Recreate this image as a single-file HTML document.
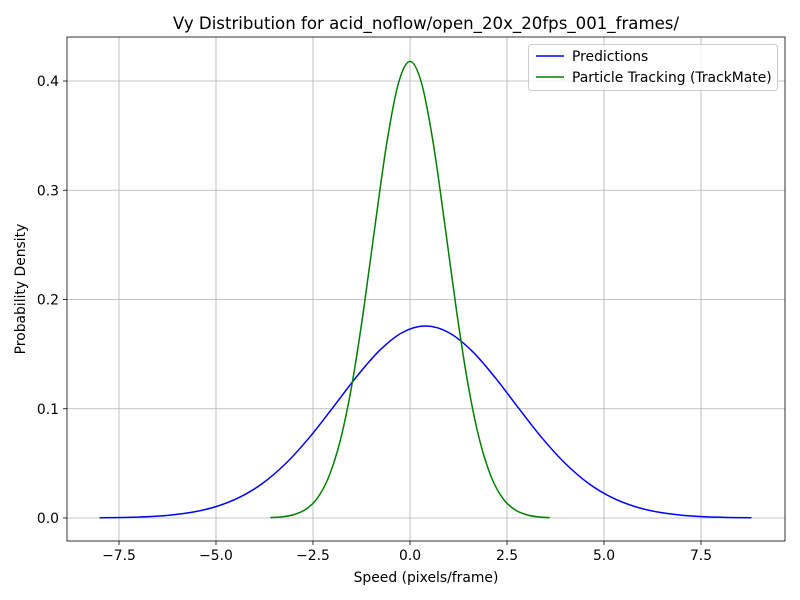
<!DOCTYPE html>
<html><head><meta charset="utf-8"><style>
body{margin:0;background:#fff;}
svg{display:block;font-family:"DejaVu Sans","Liberation Sans",sans-serif;}
</style></head><body>
<svg id="chart" width="800" height="600" viewBox="0 0 800 600">
<rect width="800" height="600" fill="#fff"/>
<g id="grid"></g><g id="series"></g><g id="axes"></g>
<text x="426" y="29" text-anchor="middle" font-size="16.6">Vy Distribution for acid_noflow/open_20x_20fps_001_frames/</text>
<text x="426" y="582" text-anchor="middle" font-size="13.9">Speed (pixels/frame)</text>
<text transform="translate(25,289) rotate(-90)" text-anchor="middle" font-size="13.9">Probability Density</text>
<g>
<rect x="528.5" y="44.5" width="249" height="46" rx="3" fill="#fff" fill-opacity="0.8" stroke="#ccc"/>
<line x1="536" y1="56" x2="564" y2="56" stroke="#0000ff" stroke-width="1.5"/>
<text x="572" y="61" font-size="13.9">Predictions</text>
<line x1="536" y1="77" x2="564" y2="77" stroke="#008000" stroke-width="1.5"/>
<text x="572" y="82" font-size="13.9">Particle Tracking (TrackMate)</text>
</g>
</svg>
<script>
const blueX = [-8,-7.4,-6.8,-6.2,-5.6,-5,-4.4,-3.8,-3.2,-2.6,-2,-1.4,-0.8,-0.2,0.4,1,1.6,2.2,2.8,3.4,4,4.6,5.2,5.8,6.4,7,7.6,8.2,8.8];
const blueY = [0.00019,0.00048,0.00115,0.00257,0.00534,0.0104,0.0188,0.0317,0.0500,0.0734,0.1005,0.1283,0.1528,0.1697,0.1757,0.1697,0.1528,0.1283,0.1005,0.0734,0.0500,0.0317,0.0188,0.0104,0.00534,0.00257,0.00115,0.00048,0.00019];
const greenX = [-3.6,-3.3,-3,-2.7,-2.4,-2.1,-1.8,-1.5,-1.2,-0.9,-0.6,-0.3,0,0.3,0.6,0.9,1.2,1.5,1.8,2.1,2.4,2.7,3,3.3,3.6];
const greenY = [0.00034,0.00105,0.00298,0.00762,0.0176,0.0371,0.0705,0.1214,0.1895,0.2679,0.3429,0.3978,0.418,0.3978,0.3429,0.2679,0.1895,0.1214,0.0705,0.0371,0.0176,0.00762,0.00298,0.00105,0.00034];
const xTicks = [-7.5,-5,-2.5,0,2.5,5,7.5];
const xTickLabels = ["−7.5","−5.0","−2.5","0.0","2.5","5.0","7.5"];
const yTicks = [0,0.1,0.2,0.3,0.4];
const yTickLabels = ["0.0","0.1","0.2","0.3","0.4"];

const L=67,R=785,T=37,B=541;
const sx=v=>410+v*(701-410)/7.5;
const sy=v=>518-v*(518-81)/0.4;
const NS="http://www.w3.org/2000/svg";
function mk(tag,attrs,parent){const e=document.createElementNS(NS,tag);for(const k in attrs)e.setAttribute(k,attrs[k]);parent.appendChild(e);return e;}
const grid=document.getElementById('grid'),axes=document.getElementById('axes'),series=document.getElementById('series');
xTicks.forEach((t,i)=>{
  const x=sx(t);
  const g=mk('line',{x1:x,x2:x,y1:T,y2:B,stroke:'#b0b0b0','stroke-width':0.8},grid);
  
  
  mk('line',{x1:x,x2:x,y1:B,y2:B+4,stroke:'#000','stroke-width':0.8},axes);
  const tx=mk('text',{x:x,y:B+19,'text-anchor':'middle','font-size':13.9},axes);
  tx.textContent=xTickLabels[i];
  
  
});
yTicks.forEach((t,i)=>{
  const y=sy(t);
  const g=mk('line',{x1:L,x2:R,y1:y,y2:y,stroke:'#b0b0b0','stroke-width':0.8},grid);
  
  
  mk('line',{x1:L-4,x2:L,y1:y,y2:y,stroke:'#000','stroke-width':0.8},axes);
  const tx=mk('text',{x:L-8,y:y+5,'text-anchor':'end','font-size':13.9},axes);
  tx.textContent=yTickLabels[i];
  
  
});
const frame=mk('rect',{x:L,y:T,width:R-L,height:B-T,fill:'none',stroke:'#000','stroke-width':0.8},axes);


function path(xs,ys){
  const p=xs.map((x,i)=>[sx(x),sy(ys[i])]);
  let d='M'+p[0][0]+','+p[0][1];
  for(let i=0;i<p.length-1;i++){
    const p0=p[Math.max(i-1,0)],p1=p[i],p2=p[i+1],p3=p[Math.min(i+2,p.length-1)];
    const c1=[p1[0]+(p2[0]-p0[0])/6,p1[1]+(p2[1]-p0[1])/6];
    const c2=[p2[0]-(p3[0]-p1[0])/6,p2[1]-(p3[1]-p1[1])/6];
    d+=`C${c1[0]},${c1[1]} ${c2[0]},${c2[1]} ${p2[0]},${p2[1]}`;
  }
  return d;
}
const b=mk('path',{d:path(blueX,blueY),fill:'none',stroke:'#0000ff','stroke-width':1.5},series);


const g2=mk('path',{d:path(greenX,greenY),fill:'none',stroke:'#008000','stroke-width':1.5},series);


</script>
</body></html>
